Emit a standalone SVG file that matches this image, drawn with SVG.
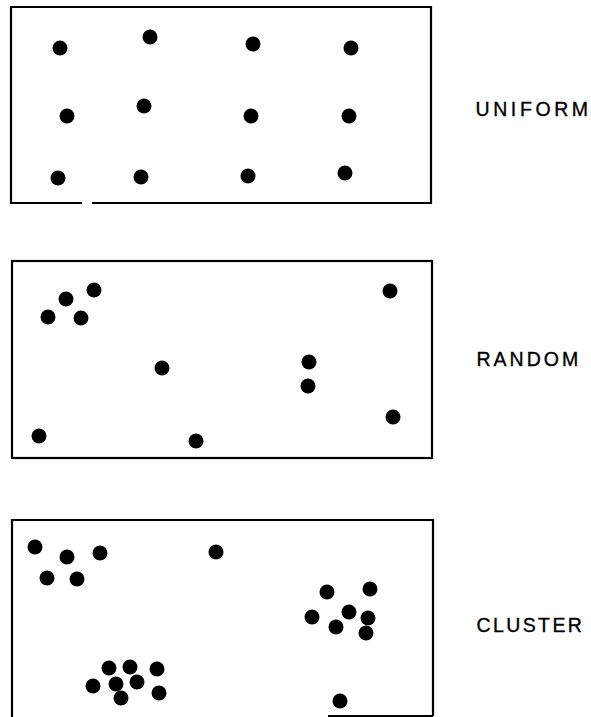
<svg xmlns="http://www.w3.org/2000/svg" width="591" height="717" viewBox="0 0 591 717">
<style>
.box{fill:none;stroke:#000;stroke-width:2.2}
.dot{fill:#000}
.lbl{font-family:"Liberation Sans",Arial,sans-serif;font-size:19.5px;letter-spacing:3px;fill:#000;stroke:#000;stroke-width:0.35}
</style>
<rect width="591" height="717" fill="#fff"/>
<g id="uniform">
<path class="box" d="M82,203 H11 V7 H431 V203 H92"/>
<g class="dot">
<circle cx="60" cy="48" r="7.5"/><circle cx="150" cy="37" r="7.5"/><circle cx="253" cy="44" r="7.5"/><circle cx="351" cy="48" r="7.5"/>
<circle cx="67" cy="116" r="7.5"/><circle cx="144" cy="106" r="7.5"/><circle cx="251" cy="116" r="7.5"/><circle cx="349" cy="116" r="7.5"/>
<circle cx="58" cy="178" r="7.5"/><circle cx="141" cy="177" r="7.5"/><circle cx="248" cy="176" r="7.5"/><circle cx="345" cy="173" r="7.5"/>
</g>
<text class="lbl" x="475.5" y="116" style="letter-spacing:3.6px">UNIFORM</text>
</g>
<g id="random">
<rect class="box" x="12" y="261" width="420" height="197"/>
<g class="dot">
<circle cx="66" cy="299" r="7.5"/><circle cx="94" cy="290" r="7.5"/><circle cx="48" cy="317" r="7.5"/><circle cx="81" cy="318" r="7.5"/>
<circle cx="390" cy="291" r="7.5"/><circle cx="162" cy="368" r="7.5"/><circle cx="309" cy="362" r="7.5"/><circle cx="308" cy="386" r="7.5"/>
<circle cx="393" cy="417" r="7.5"/><circle cx="39" cy="436" r="7.5"/><circle cx="196" cy="441" r="7.5"/>
</g>
<text class="lbl" x="476.5" y="366">RANDOM</text>
</g>
<g id="cluster">
<path class="box" d="M12,717 V520 H433 V716 M328,716 H433"/>
<g class="dot">
<circle cx="35" cy="547" r="7.5"/><circle cx="67" cy="557" r="7.5"/><circle cx="100" cy="553" r="7.5"/><circle cx="47" cy="578" r="7.5"/><circle cx="77" cy="579" r="7.5"/>
<circle cx="216" cy="552" r="7.5"/>
<circle cx="327" cy="592" r="7.5"/><circle cx="370" cy="589" r="7.5"/><circle cx="312" cy="617" r="7.5"/><circle cx="349" cy="612" r="7.5"/><circle cx="368" cy="618" r="7.5"/><circle cx="336" cy="627" r="7.5"/><circle cx="366" cy="633" r="7.5"/>
<circle cx="109" cy="668" r="7.5"/><circle cx="130" cy="667" r="7.5"/><circle cx="157" cy="669" r="7.5"/><circle cx="93" cy="686" r="7.5"/><circle cx="116" cy="684" r="7.5"/><circle cx="137" cy="682" r="7.5"/><circle cx="121" cy="698" r="7.5"/><circle cx="159" cy="693" r="7.5"/>
<circle cx="340" cy="701" r="7.5"/>
</g>
<text class="lbl" x="476.5" y="632" style="letter-spacing:2.4px">CLUSTER</text>
</g>
</svg>
